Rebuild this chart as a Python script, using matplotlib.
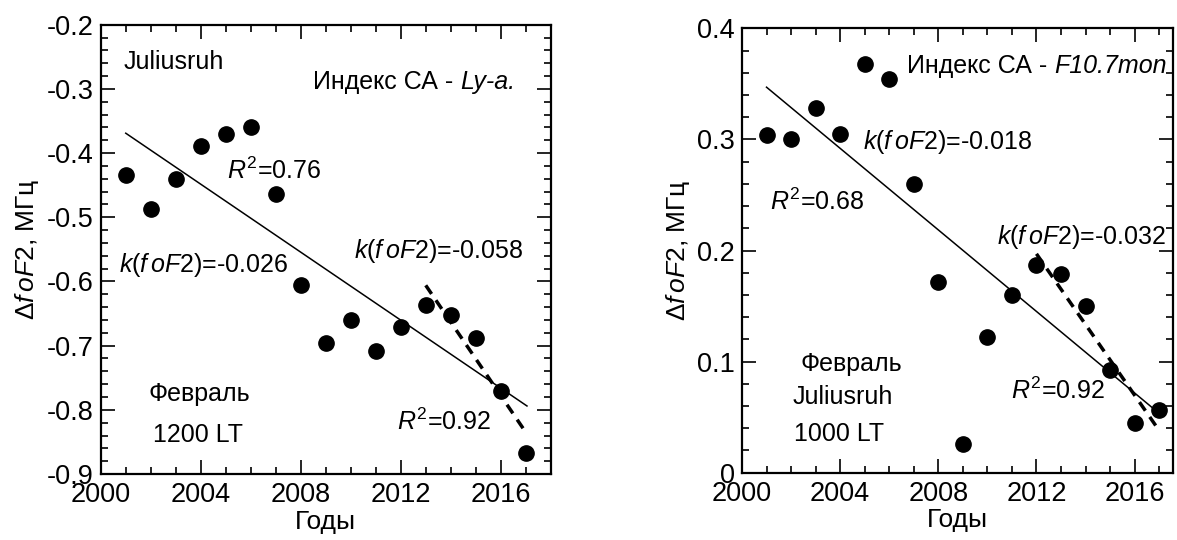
import numpy as np
import matplotlib
matplotlib.use('Agg')
import matplotlib.pyplot as plt
from matplotlib.ticker import MultipleLocator, FixedLocator

plt.rcParams['font.family'] = ['Liberation Sans', 'DejaVu Sans']
plt.rcParams['mathtext.fontset'] = 'custom'
plt.rcParams['mathtext.rm'] = 'Liberation Sans'
plt.rcParams['mathtext.it'] = 'Liberation Sans:italic'
plt.rcParams['axes.unicode_minus'] = False

# Данные
years = np.arange(2001, 2018)
dfof2_lya = [-0.434, -0.487, -0.440, -0.389, -0.370, -0.359, -0.464, -0.606, -0.696,
             -0.660, -0.709, -0.671, -0.636, -0.653, -0.688, -0.771, -0.867]
dfof2_f107 = [0.304, 0.300, 0.328, 0.305, 0.368, 0.354, 0.260, 0.172, 0.026,
              0.122, 0.160, 0.187, 0.179, 0.150, 0.092, 0.045, 0.056]

# Линии тренда (концы)
trend_lya_x = [2001, 2017.05]
trend_lya_y = [-0.369, -0.794]
trend2_lya_x = [2013, 2016.95]
trend2_lya_y = [-0.606, -0.832]
trend_f107_x = [2001, 2016.75]
trend_f107_y = [0.347, 0.058]
trend2_f107_x = [2012, 2017]
trend2_f107_y = [0.197, 0.038]

fig = plt.figure(figsize=(11.77, 5.4), dpi=100)
ax1 = fig.add_axes([0.0856, 0.1222, 0.3823, 0.832])
ax2 = fig.add_axes([0.6304, 0.1246, 0.3659, 0.823])

fs_tick = 19.5
fs_txt = 18
fs_lab = 19
k_lbl = r'$k$($f\,oF$2)='


def setup(ax, ylim, yticks, ylabels, xmax):
    ax.set_xlim(2000, xmax)
    ax.set_ylim(*ylim)
    ax.xaxis.set_major_locator(FixedLocator([2000, 2004, 2008, 2012, 2016]))
    ax.xaxis.set_minor_locator(MultipleLocator(1))
    ax.set_yticks(yticks)
    ax.set_yticklabels(ylabels)
    ax.yaxis.set_minor_locator(MultipleLocator(0.02))
    ax.tick_params(which='both', direction='in', top=True, right=True,
                   labelsize=fs_tick, width=1.2)
    ax.tick_params(which='major', length=10)
    ax.tick_params(which='minor', length=5)
    ax.tick_params(axis='x', pad=6)
    ax.tick_params(axis='y', pad=5)
    for s in ax.spines.values():
        s.set_linewidth(1.6)
    ax.set_xlabel('Годы', fontsize=fs_lab, labelpad=1)
    ax.set_ylabel(r'$\mathit{\Delta f\,oF}$2, МГц', fontsize=fs_lab, labelpad=4)


def index_text(ax, x, y, italic_part):
    t = ax.text(x, y, 'Индекс СА - ', fontsize=fs_txt, va='center')
    ax.annotate(italic_part, xy=(1, 0.5), xycoords=t, va='center',
                fontsize=fs_txt, style='italic')


# Левая панель: Ly-a
setup(ax1, (-0.9, -0.2), np.round(np.arange(-0.9, -0.15, 0.1), 1),
      ['-0.9', '-0.8', '-0.7', '-0.6', '-0.5', '-0.4', '-0.3', '-0.2'], 2018)
ax1.plot(years, dfof2_lya, 'o', color='black', ms=11)
ax1.plot(trend_lya_x, trend_lya_y, color='black', lw=1.1)
ax1.plot(trend2_lya_x, trend2_lya_y, color='black', lw=2.5, dashes=(3, 2.2))
ax1.text(2000.93, -0.258, 'Juliusruh', fontsize=fs_txt, va='center')
index_text(ax1, 2008.5, -0.29, 'Ly-a.')
ax1.text(2005.07, -0.428, r'$R^{2}$=0.76', fontsize=fs_txt, va='center')
ax1.text(2000.72, -0.574, k_lbl + '-0.026', fontsize=fs_txt, va='center')
ax1.text(2010.13, -0.553, k_lbl + '-0.058', fontsize=fs_txt, va='center')
ax1.text(2001.9, -0.775, 'Февраль', fontsize=fs_txt, va='center')
ax1.text(2002.1, -0.839, '1200 LT', fontsize=fs_txt, va='center')
ax1.text(2011.85, -0.818, r'$R^{2}$=0.92', fontsize=fs_txt, va='center')

# Правая панель: F10.7
setup(ax2, (0, 0.4), [0, 0.1, 0.2, 0.3, 0.4],
      ['0', '0.1', '0.2', '0.3', '0.4'], 2017.55)
ax2.plot(years, dfof2_f107, 'o', color='black', ms=11)
ax2.plot(trend_f107_x, trend_f107_y, color='black', lw=1.1)
ax2.plot(trend2_f107_x, trend2_f107_y, color='black', lw=2.5, dashes=(3, 2.2))
index_text(ax2, 2006.73, 0.3665, 'F10.7mon')
ax2.text(2004.93, 0.298, k_lbl + '-0.018', fontsize=fs_txt, va='center')
ax2.text(2001.14, 0.244, r'$R^{2}$=0.68', fontsize=fs_txt, va='center')
ax2.text(2010.41, 0.212, k_lbl + '-0.032', fontsize=fs_txt, va='center')
ax2.text(2002.37, 0.0974, 'Февраль', fontsize=fs_txt, va='center')
ax2.text(2002.07, 0.0682, 'Juliusruh', fontsize=fs_txt, va='center')
ax2.text(2002.1, 0.0347, '1000 LT', fontsize=fs_txt, va='center')
ax2.text(2010.97, 0.0735, r'$R^{2}$=0.92', fontsize=fs_txt, va='center')

fig.savefig('out.png', dpi=100)
